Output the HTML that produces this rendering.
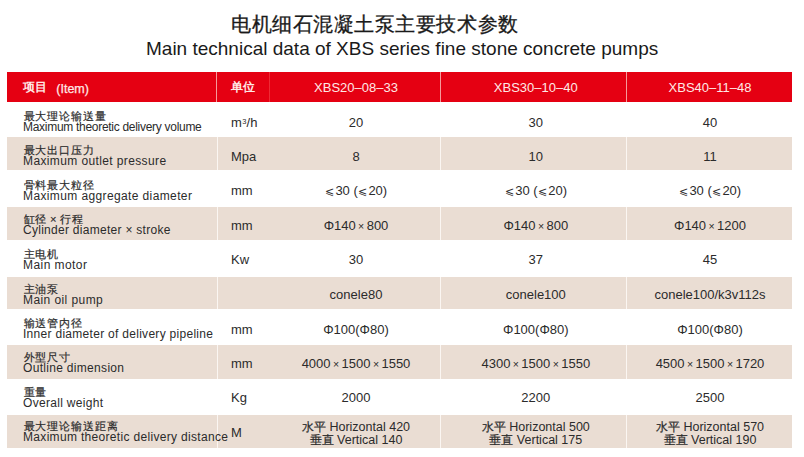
<!DOCTYPE html>
<html><head><meta charset="utf-8"><style>
html,body{margin:0;padding:0;background:#fff;width:804px;height:457px;overflow:hidden}
body{position:relative;font-family:"Liberation Sans",sans-serif;color:#2b2b2b}
.a{position:absolute;white-space:nowrap;line-height:20px;font-size:12px}
.bg{position:absolute}
.c{width:200px;text-align:center}
.t1{left:231px;top:9px;font-size:20px;line-height:30px;color:#1a1a1a;letter-spacing:0.55px;-webkit-text-stroke:0.3px #1a1a1a}
.t2{left:146px;top:34px;font-size:19px;line-height:30px;color:#1a1a1a}
.hd{color:#ffe9e6}
.cn{-webkit-text-stroke:0.2px}
.v{font-size:13px}
.u{font-size:13px}
.x{word-spacing:-1.2px}
.mx{font-size:10.5px}
.le{font-size:11px;margin:0 1px 0 0.6px}
</style></head><body>

<div class="a t1">电机细石混凝土泵主要技术参数</div>
<div class="a t2">Main technical data of XBS series fine stone concrete pumps</div>
<div class="bg" style="left:7px;top:72px;width:785px;height:30px;background:#e50012"></div>
<div class="bg" style="left:216px;top:72px;width:1px;height:30px;background:#f59a9a"></div>
<div class="bg" style="left:269px;top:72px;width:1px;height:30px;background:#ee2b35"></div>
<div class="bg" style="left:440px;top:72px;width:1px;height:30px;background:#f59a9a"></div>
<div class="bg" style="left:626px;top:72px;width:1px;height:30px;background:#f59a9a"></div>
<div class="a hd" style="left:23px;top:77px;font-weight:bold">项目</div>
<div class="a hd" style="left:56.3px;top:79px;font-size:12.5px;-webkit-text-stroke:0.25px #ffe9e6">(Item)</div>
<div class="a hd" style="left:231px;top:77px;font-weight:bold">单位</div>
<div class="a hd c" style="left:256px;top:78px;font-size:13px">XBS20–08–33</div>
<div class="a hd c" style="left:435.79999999999995px;top:78px;font-size:13px">XBS30–10–40</div>
<div class="a hd c" style="left:610px;top:78px;font-size:13px">XBS40–11–48</div>
<div class="a cn" style="left:23.5px;top:106px;font-size:11px;letter-spacing:0.95px">最大理论输送量</div>
<div class="a" style="left:23px;top:117px;letter-spacing:-0.29px">Maximum theoretic delivery volume</div>
<div class="a u" style="left:231px;top:113px">m<span style="font-size:7.5px;position:relative;top:-3.5px;margin:0 0.3px">3</span>/h</div>
<div class="a c v" style="left:256px;top:113px">20</div>
<div class="a c v" style="left:435.79999999999995px;top:113px">30</div>
<div class="a c v" style="left:610px;top:113px">40</div>
<div class="bg" style="left:7px;top:137px;width:785px;height:33px;background:#eaddd3"></div>
<div class="bg" style="left:217px;top:137px;width:1px;height:33px;background:#fbf6f2"></div>
<div class="bg" style="left:440px;top:137px;width:1px;height:33px;background:#fbf6f2"></div>
<div class="bg" style="left:626px;top:137px;width:1px;height:33px;background:#fbf6f2"></div>
<div class="a cn" style="left:23.5px;top:140px;font-size:11px;letter-spacing:0.95px">最大出口压力</div>
<div class="a" style="left:23px;top:151px;letter-spacing:0.38px">Maximum outlet pressure</div>
<div class="a u" style="left:231px;top:147px">Mpa</div>
<div class="a c v" style="left:256px;top:147px">8</div>
<div class="a c v" style="left:435.79999999999995px;top:147px">10</div>
<div class="a c v" style="left:610px;top:147px">11</div>
<div class="a cn" style="left:23.5px;top:175px;font-size:11px;letter-spacing:0.95px">骨料最大粒径</div>
<div class="a" style="left:23px;top:186px;letter-spacing:0.38px">Maximum aggregate diameter</div>
<div class="a u" style="left:231px;top:181px">mm</div>
<div class="a c v" style="left:256px;top:181px"><span class=le>⩽</span>30 (<span class=le>⩽</span>20)</div>
<div class="a c v" style="left:435.79999999999995px;top:181px"><span class=le>⩽</span>30 (<span class=le>⩽</span>20)</div>
<div class="a c v" style="left:610px;top:181px"><span class=le>⩽</span>30 (<span class=le>⩽</span>20)</div>
<div class="bg" style="left:7px;top:207px;width:785px;height:33px;background:#eaddd3"></div>
<div class="bg" style="left:217px;top:207px;width:1px;height:33px;background:#fbf6f2"></div>
<div class="bg" style="left:440px;top:207px;width:1px;height:33px;background:#fbf6f2"></div>
<div class="bg" style="left:626px;top:207px;width:1px;height:33px;background:#fbf6f2"></div>
<div class="a cn" style="left:23.5px;top:209px;font-size:11px;letter-spacing:0.95px">缸径<span style="word-spacing:-1.5px"> × </span>行程</div>
<div class="a" style="left:23px;top:220px;letter-spacing:0.28px">Cylinder diameter × stroke</div>
<div class="a u" style="left:231px;top:216px">mm</div>
<div class="a c v x" style="left:256px;top:216px">Φ140 <span class=mx>×</span> 800</div>
<div class="a c v x" style="left:435.79999999999995px;top:216px">Φ140 <span class=mx>×</span> 800</div>
<div class="a c v x" style="left:610px;top:216px">Φ140 <span class=mx>×</span> 1200</div>
<div class="a cn" style="left:23.5px;top:244px;font-size:11px;letter-spacing:0.95px">主电机</div>
<div class="a" style="left:23px;top:255px;letter-spacing:0.44px">Main motor</div>
<div class="a u" style="left:231px;top:250px">Kw</div>
<div class="a c v" style="left:256px;top:250px">30</div>
<div class="a c v" style="left:435.79999999999995px;top:250px">37</div>
<div class="a c v" style="left:610px;top:250px">45</div>
<div class="bg" style="left:7px;top:277px;width:785px;height:32px;background:#eaddd3"></div>
<div class="bg" style="left:217px;top:277px;width:1px;height:32px;background:#fbf6f2"></div>
<div class="bg" style="left:440px;top:277px;width:1px;height:32px;background:#fbf6f2"></div>
<div class="bg" style="left:626px;top:277px;width:1px;height:32px;background:#fbf6f2"></div>
<div class="a cn" style="left:23.5px;top:279px;font-size:11px;letter-spacing:0.95px">主油泵</div>
<div class="a" style="left:23px;top:290px;letter-spacing:0.42px">Main oil pump</div>
<div class="a c v" style="left:256px;top:285px">conele80</div>
<div class="a c v" style="left:435.79999999999995px;top:285px">conele100</div>
<div class="a c v" style="left:610px;top:285px">conele100/k3v112s</div>
<div class="a cn" style="left:23.5px;top:313px;font-size:11px;letter-spacing:0.95px">输送管内径</div>
<div class="a" style="left:23px;top:324px;letter-spacing:0.29px">Inner diameter of delivery pipeline</div>
<div class="a u" style="left:231px;top:320px">mm</div>
<div class="a c v" style="left:256px;top:320px">Φ100(Φ80)</div>
<div class="a c v" style="left:435.79999999999995px;top:320px">Φ100(Φ80)</div>
<div class="a c v" style="left:610px;top:320px">Φ100(Φ80)</div>
<div class="bg" style="left:7px;top:345px;width:785px;height:34px;background:#eaddd3"></div>
<div class="bg" style="left:217px;top:345px;width:1px;height:34px;background:#fbf6f2"></div>
<div class="bg" style="left:440px;top:345px;width:1px;height:34px;background:#fbf6f2"></div>
<div class="bg" style="left:626px;top:345px;width:1px;height:34px;background:#fbf6f2"></div>
<div class="a cn" style="left:23.5px;top:347px;font-size:11px;letter-spacing:0.95px">外型尺寸</div>
<div class="a" style="left:23px;top:358px;letter-spacing:0.31px">Outline dimension</div>
<div class="a u" style="left:231px;top:354px">mm</div>
<div class="a c v x" style="left:256px;top:354px">4000 <span class=mx>×</span> 1500 <span class=mx>×</span> 1550</div>
<div class="a c v x" style="left:435.79999999999995px;top:354px">4300 <span class=mx>×</span> 1500 <span class=mx>×</span> 1550</div>
<div class="a c v x" style="left:610px;top:354px">4500 <span class=mx>×</span> 1500 <span class=mx>×</span> 1720</div>
<div class="a cn" style="left:23.5px;top:382px;font-size:11px;letter-spacing:0.95px">重量</div>
<div class="a" style="left:23px;top:393px;letter-spacing:0.31px">Overall weight</div>
<div class="a u" style="left:231px;top:388px">Kg</div>
<div class="a c v" style="left:256px;top:388px">2000</div>
<div class="a c v" style="left:435.79999999999995px;top:388px">2200</div>
<div class="a c v" style="left:610px;top:388px">2500</div>
<div class="bg" style="left:7px;top:415px;width:785px;height:33px;background:#eaddd3"></div>
<div class="bg" style="left:217px;top:415px;width:1px;height:33px;background:#fbf6f2"></div>
<div class="bg" style="left:440px;top:415px;width:1px;height:33px;background:#fbf6f2"></div>
<div class="bg" style="left:626px;top:415px;width:1px;height:33px;background:#fbf6f2"></div>
<div class="a cn" style="left:23.5px;top:416px;font-size:11px;letter-spacing:0.95px">最大理论输送距离</div>
<div class="a" style="left:23px;top:427px;letter-spacing:0.32px">Maximum theoretic delivery distance</div>
<div class="a u" style="left:231px;top:423px">M</div>
<div class="a c" style="left:256px;top:417px;font-size:12.5px"><span class="cn" style="font-size:12px">水平</span> Horizontal 420</div>
<div class="a c" style="left:256px;top:430px;font-size:12.5px"><span class="cn" style="font-size:12px">垂直</span> Vertical 140</div>
<div class="a c" style="left:435.79999999999995px;top:417px;font-size:12.5px"><span class="cn" style="font-size:12px">水平</span> Horizontal 500</div>
<div class="a c" style="left:435.79999999999995px;top:430px;font-size:12.5px"><span class="cn" style="font-size:12px">垂直</span> Vertical 175</div>
<div class="a c" style="left:610px;top:417px;font-size:12.5px"><span class="cn" style="font-size:12px">水平</span> Horizontal 570</div>
<div class="a c" style="left:610px;top:430px;font-size:12.5px"><span class="cn" style="font-size:12px">垂直</span> Vertical 190</div>
</body></html>
